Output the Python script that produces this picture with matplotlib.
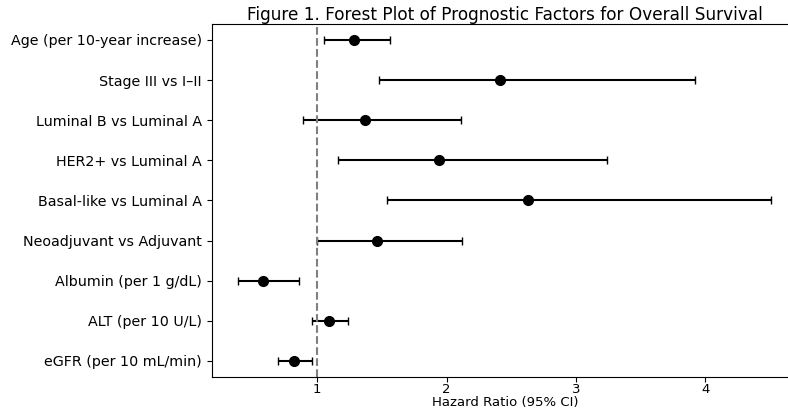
import numpy as np
from matplotlib import pyplot as plt

factors = ["Age (per 10-year increase)", "Stage III vs I\u2013II", "Luminal B vs Luminal A",
           "HER2+ vs Luminal A", "Basal-like vs Luminal A", "Neoadjuvant vs Adjuvant",
           "Albumin (per 1 g/dL)", "ALT (per 10 U/L)", "eGFR (per 10 mL/min)"]
hr = [1.28, 2.41, 1.37, 1.94, 2.63, 1.46, 0.58, 1.09, 0.82]
ci_low = [1.05, 1.48, 0.89, 1.16, 1.54, 1.00, 0.39, 0.96, 0.70]
ci_high = [1.56, 3.92, 2.11, 3.24, 4.51, 2.12, 0.86, 1.24, 0.96]

hr = np.array(hr)
err = np.array([hr - np.array(ci_low), np.array(ci_high) - hr])
y = np.arange(len(factors))

fig = plt.figure(figsize=(7.88, 4.12), dpi=100)
# axes runs a little past the right edge of the figure, as in the reference
ax = fig.add_axes([0.2687, 0.0849, 0.744, 0.857])
ax.errorbar(hr, y, xerr=err, fmt='o', color='black', ecolor='black',
            capsize=3, markersize=7, elinewidth=1.5)
ax.axvline(1, color='gray', linestyle='--', linewidth=1.5)
ax.set_yticks(y)
ax.set_yticklabels(factors, fontsize=10.3)
ax.invert_yaxis()
ax.set_xticks([1, 2, 3, 4])
ax.tick_params(axis='x', labelsize=9.5, pad=1)
ax.spines['right'].set_visible(False)
ax.set_xlabel("Hazard Ratio (95% CI)", fontsize=9.5, labelpad=0)
ax.set_title("Figure 1. Forest Plot of Prognostic Factors for Overall Survival",
             fontsize=12.2, pad=3)

fig.savefig("out.png", dpi=100)
